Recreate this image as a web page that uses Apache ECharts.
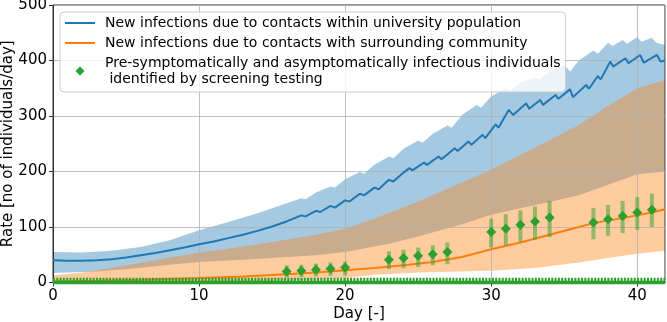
<!DOCTYPE html>
<html>
<head>
<meta charset="utf-8">
<script src="https://cdn.jsdelivr.net/npm/echarts@6/dist/echarts.min.js"></script>
<style>html,body{margin:0;padding:0;background:#fff}#chart{width:667px;height:322px}</style>
</head>
<body>
<div id="chart"></div>
<script>
var nameUni = "New infections due to contacts within university population";
var nameCom = "New infections due to contacts with surrounding community";
var nameScr = "Pre-symptomatically and asymptomatically infectious individuals\n identified by screening testing";

// university population: median line and band
var uniLine = [[0,40],[1,39],[2,39],[3,40],[4,42],[5,45],[6,49],[7,53],[8,58],[9,63],[10,69],[11,74],[12,80],[13,86],[14,93],[15,101],[16,110],[17,121],[17.3,119],[18,129],[18.3,127],[19,138],[19.3,135],[20,148],[20.3,146],[21,160],[21.3,157],[22,171],[22.3,168],[23,185],[23.3,182],[24,198],[24.4,206],[24.6,202],[25.4,216],[25.6,212],[26.4,227],[26.6,222],[27.5,242],[27.7,237],[28.45,254],[28.65,248],[29.4,266],[29.6,260],[30.3,285],[30.5,279],[31.2,311],[31.5,302],[32.4,323],[32.6,313],[33.35,329],[33.55,320],[34.4,338],[34.6,331],[35.4,348],[35.6,334],[36.5,356],[36.7,349],[37.3,372],[37.5,366],[38.15,398],[38.35,389],[39.2,404],[39.4,395],[40.2,410],[40.45,396],[41.35,410],[41.6,398],[41.9,400]];
var uniUpper = [[0,55],[2,54],[4,57],[6,64],[8,76],[10,94],[12,109],[14,125],[16,143],[17,152],[17.3,150],[18,162],[19,173],[19.3,171],[20,186],[21,199],[21.3,196],[22,212],[23,227],[23.3,224],[24,241],[25,256],[25.3,252],[26,268],[27,283],[27.3,279],[28,302],[29,320],[29.3,315],[30,335],[31,350],[31.3,345],[32,360],[33,370],[33.3,366],[34,380],[35,392],[35.4,380],[36,400],[37,418],[37.3,412],[38,432],[38.3,426],[39,437],[39.3,430],[40,442],[40.3,434],[41,441],[41.3,432],[41.9,428]];
var uniLower = [[0,17],[3,20],[5,24],[8,32],[10,37],[13,41],[15,44],[18,49],[20,55],[23,70],[25,83],[28,105],[30,122],[32,134],[34,145],[36,157],[38,176],[40,195],[41.9,200]];

// surrounding community: median line and band
var comLine = [[0,2],[3,3],[6,5],[10,8],[13,11],[16,15],[18,18],[20,22],[22,26],[24,31],[26,37],[28,46],[30,60],[32,72],[34,86],[36,100],[37,107],[39,116],[41,126],[41.9,132]];
var comUpper = [[0,13],[2,18],[4,26],[6,35],[8,45],[10,54],[12,61],[15,73],[18,86],[20,97],[22,115],[25,146],[28,180],[30,203],[33,243],[36,284],[38,318],[40,350],[41.9,365]];
var comLower = [[0,0],[10,1],[15,3],[18,5],[20,8],[22,14],[25,18],[30,21],[33,26],[36,36],[38,44],[40,52],[41.9,57]];

// screening testing
var screenDays = [16,17,18,19,20,23,24,25,26,27,30,31,32,33,34,37,38,39,40,41];
var screenVals = [20,21,23,25,27,41,44,48,51,55,91,97,104,110,117,108,114,120,126,131];
var screenLow  = [9,10,11,12,13,24,26,28,31,33,63,67,73,77,82,78,84,89,95,100];
var screenHigh = [31,32,34,36,38,56,59,63,67,72,115,123,130,137,147,134,140,147,154,160];
var screenZero = [[0,0],[41.9,0]];
var screenSmall = [[0,4],[41.9,4]];

var myChart = echarts.init(document.getElementById('chart'));

function band(upper, lower, color) {
    return {
        type: 'custom',
        silent: true,
        z: -1,
        data: [[0, 0]],
        renderItem: function (params, api) {
            var pts = upper.map(function (p) { return api.coord(p); });
            for (var i = lower.length - 1; i >= 0; i--) pts.push(api.coord(lower[i]));
            return { type: 'polygon', shape: { points: pts }, style: { fill: color } };
        }
    };
}

var font = 'DejaVu Sans';
var lineIcon = 'path://M0,0H30V2H0Z';
option = {
    animation: false,
    backgroundColor: '#fff',
    grid: { left: 53, right: 2, top: 5, bottom: 39.5, show: true, borderColor: '#333', borderWidth: 1,
            outerBoundsMode: 'none', containLabel: false },
    legend: {
        data: [
            { name: nameUni, icon: lineIcon, itemStyle: { color: '#1f77b4' } },
            { name: nameCom, icon: lineIcon, itemStyle: { color: '#ff7f0e' } },
            { name: nameScr, icon: 'path://M5,0L10,5L5,10L0,5Z', itemStyle: { color: '#2ca02c' } }
        ],
        orient: 'vertical',
        left: 60,
        top: 12,
        padding: [3, 5, 5, 5],
        itemGap: 4,
        itemWidth: 30,
        itemHeight: 9,
        backgroundColor: 'rgba(255,255,255,0.8)',
        borderColor: '#ccc',
        borderWidth: 1,
        borderRadius: 4,
        textStyle: { fontFamily: font, fontSize: 14, color: '#000', lineHeight: 16, padding: [0, 0, 0, 5] }
    },
    xAxis: {
        type: 'value',
        min: 0,
        max: 41.9,
        interval: 10,
        name: 'Day [-]',
        nameLocation: 'middle',
        nameGap: 24,
        nameMoveOverlap: false,
        nameTextStyle: { fontFamily: font, fontSize: 15, color: '#000' },
        axisLine: { lineStyle: { color: '#333' } },
        axisTick: { show: true, length: 4, lineStyle: { color: '#333' } },
        axisLabel: { fontFamily: font, fontSize: 15, color: '#000', margin: 6, showMaxLabel: false },
        splitLine: { lineStyle: { color: '#b0b0b0', width: 0.8 } }
    },
    yAxis: {
        type: 'value',
        min: 0,
        max: 500,
        interval: 100,
        name: 'Rate [no of individuals/day]',
        nameLocation: 'middle',
        nameGap: 37,
        nameMoveOverlap: false,
        nameTextStyle: { fontFamily: font, fontSize: 15, color: '#000' },
        axisLine: { show: true, lineStyle: { color: '#333' } },
        axisTick: { show: true, length: 4, lineStyle: { color: '#333' } },
        axisLabel: { fontFamily: font, fontSize: 15, color: '#000', margin: 6 },
        splitLine: { lineStyle: { color: '#b0b0b0', width: 0.8 } }
    },
    series: [
        band(uniUpper, uniLower, 'rgba(31,119,180,0.4)'),
        band(comUpper, comLower, 'rgba(255,127,14,0.4)'),
        {
            name: nameUni, type: 'line', data: uniLine, symbol: 'none', z: 3,
            lineStyle: { color: '#1f77b4', width: 2 }, itemStyle: { color: '#1f77b4' }
        },
        {
            name: nameCom, type: 'line', data: comLine, symbol: 'none', z: 3,
            lineStyle: { color: '#ff7f0e', width: 2 }, itemStyle: { color: '#ff7f0e' }
        },
        {
            type: 'custom', silent: true, z: 4,
            data: screenDays.map(function (d, i) { return [d, screenLow[i], screenHigh[i]]; }),
            encode: { x: 0, y: [1, 2] },
            renderItem: function (params, api) {
                var lo = api.coord([api.value(0), api.value(1)]);
                var hi = api.coord([api.value(0), api.value(2)]);
                return { type: 'rect', shape: { x: lo[0] - 2, y: hi[1], width: 4, height: lo[1] - hi[1] },
                         style: { fill: 'rgba(44,160,44,0.5)' } };
            }
        },
        {
            name: nameScr, type: 'scatter', z: 5, symbol: 'diamond', symbolSize: 10,
            data: screenDays.map(function (d, i) { return [d, screenVals[i]]; }),
            itemStyle: { color: '#2ca02c', opacity: 1 }
        },
        {
            type: 'line', data: screenSmall, symbol: 'none', z: 5, clip: false, silent: true,
            lineStyle: { color: '#2ca02c', width: 5, type: [2, 1.3] }
        },
        {
            type: 'line', data: screenZero, symbol: 'none', z: 5, clip: false, silent: true,
            lineStyle: { color: '#2ca02c', width: 3.5 }
        }
    ]
};
myChart.setOption(option);
</script>
</body>
</html>
